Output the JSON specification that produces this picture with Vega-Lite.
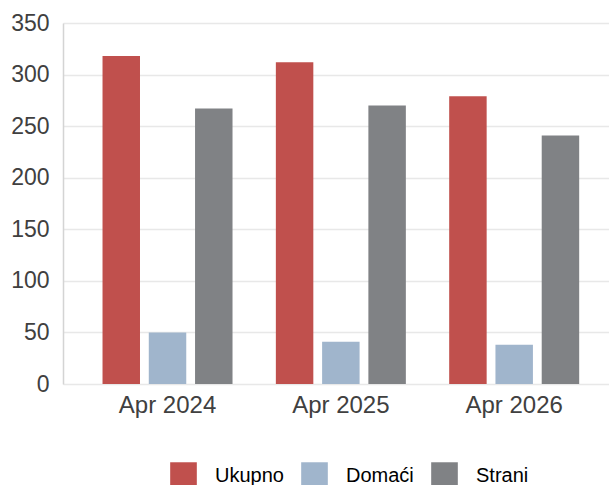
{
  "$schema": "https://vega.github.io/schema/vega-lite/v6.json",
  "autosize": "none",
  "padding": {"left": 63, "top": 23, "right": 0, "bottom": 101},
  "width": 546,
  "height": 361,
  "background": "white",
  "data": {
    "values": [
      {"period": "Apr 2024", "series": "Ukupno", "value": 318},
      {"period": "Apr 2024", "series": "Domaći", "value": 50},
      {"period": "Apr 2024", "series": "Strani", "value": 267},
      {"period": "Apr 2025", "series": "Ukupno", "value": 312},
      {"period": "Apr 2025", "series": "Domaći", "value": 41},
      {"period": "Apr 2025", "series": "Strani", "value": 270},
      {"period": "Apr 2026", "series": "Ukupno", "value": 279},
      {"period": "Apr 2026", "series": "Domaći", "value": 38},
      {"period": "Apr 2026", "series": "Strani", "value": 241}
    ]
  },
  "mark": {"type": "bar"},
  "encoding": {
    "x": {
      "field": "period",
      "type": "nominal",
      "sort": ["Apr 2024", "Apr 2025", "Apr 2026"],
      "scale": {"paddingInner": 0.25, "paddingOuter": 0.2, "align": 0.57},
      "axis": {
        "title": null,
        "labelAngle": 0,
        "labelFont": "Liberation Sans",
        "labelFontSize": 24,
        "labelColor": "#404040",
        "labelPadding": 9,
        "ticks": false,
        "domain": false,
        "grid": false
      }
    },
    "xOffset": {
      "field": "series",
      "type": "nominal",
      "sort": ["Ukupno", "Domaći", "Strani"],
      "scale": {"paddingInner": 0.19, "paddingOuter": 0}
    },
    "y": {
      "field": "value",
      "type": "quantitative",
      "scale": {"domain": [0, 350], "nice": false},
      "axis": {
        "title": null,
        "values": [0, 50, 100, 150, 200, 250, 300, 350],
        "labelFont": "Liberation Sans",
        "labelFontSize": 23,
        "labelColor": "#404040",
        "labelPadding": 14,
        "ticks": false,
        "domain": true,
        "domainColor": "#d4d4d4",
        "domainWidth": 1.5,
        "grid": true,
        "gridColor": "#e8e8e8",
        "gridWidth": 1.6
      }
    },
    "color": {
      "field": "series",
      "type": "nominal",
      "sort": ["Ukupno", "Domaći", "Strani"],
      "scale": {
        "domain": ["Ukupno", "Domaći", "Strani"],
        "range": ["#c0504d", "#a0b5cc", "#808285"]
      },
      "legend": {
        "title": null,
        "orient": "none",
        "direction": "horizontal",
        "legendX": 107,
        "legendY": 439,
        "symbolType": "square",
        "symbolSize": 710,
        "symbolStrokeWidth": 0,
        "labelFont": "Liberation Sans",
        "labelFontSize": 20,
        "labelColor": "#000000",
        "labelOffset": 18,
        "columnPadding": 17
      }
    }
  },
  "config": {
    "view": {"stroke": null}
  }
}
